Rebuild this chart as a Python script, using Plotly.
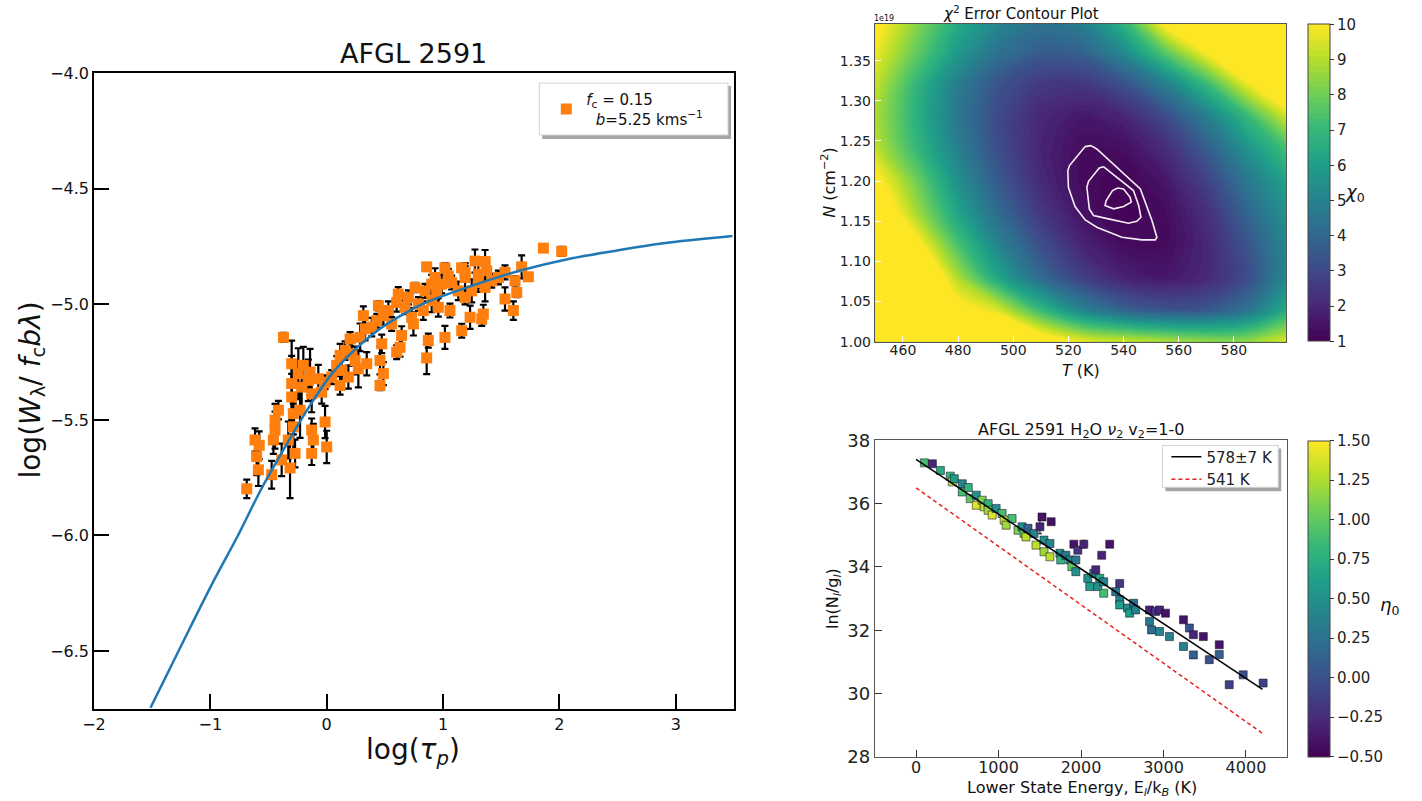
import plotly.graph_objects as go

FONT = "DejaVu Sans"

# Figure size and a mapping from target page pixels to figure pixels
# (the page is drawn with a small offset and a slight vertical squeeze).
FW, FH = 1422, 811
SX, SY = 0.993, 0.976
OX, OY = 10, 10


def fx(s):
    return (s / SX - OX) / FW


def fy(s):
    return 1 - (s / SY - OY) / FH


def flen(d):
    return d / SY / FH


# ---------------- Curve of growth (left) ----------------
tau_log = [1.862, 2.019, 0.859, 1.016, 1.159, 1.274, 1.361, 1.675, 1.733, 0.759,
           0.931, 0.988, 1.074, 1.189, 1.303, 1.375, 1.475, 1.532, 1.618, 1.633,
           1.532, 1.604, 1.361, 1.346, 1.332, 1.232, 1.160, 1.016, 1.059, 0.959,
           0.902, 0.845, 0.830, 0.873, 0.859, 0.730, 0.745, 0.673, 0.615, 0.601,
           0.444, 0.430, 0.487, 0.558, 0.644, 0.630, 0.601, 0.473, 0.458, 0.487,
           0.458, 0.315, 0.330, 0.287, 0.201, 0.158, 0.115, 0.086, 0.244, 0.272,
           0.344, 0.186, 0.115, 0.043, -0.014, -0.043, -0.372, -0.301, -0.201, -0.143,
           -0.072, -0.301, -0.215, -0.129, -0.301, -0.287, -0.229, -0.415, -0.444, -0.444,
           -0.458, -0.287, -0.129, -0.115, -0.129, -0.014, 0.000, -0.272, -0.330, -0.315,
           -0.387, -0.473, -0.616, -0.602, -0.587, -0.687, 0.902, 0.945, 1.131, 1.189,
           1.246, 1.303, 1.418, 1.189, 1.045, 0.788, 0.702, 0.530, 0.387, 0.215,
           0.129, -0.158, -0.244, -0.580]
w_log = [-4.757, -4.771, -4.838, -4.842, -4.842, -4.813, -4.815, -4.838, -4.881, -4.927,
         -4.884, -4.913, -4.906, -4.884, -4.869, -4.855, -4.884, -4.862, -4.898, -4.949,
         -4.977, -5.027, -4.927, -5.042, -5.063, -5.056, -5.114, -5.143, -5.027, -5.013,
         -4.984, -4.942, -5.027, -5.157, -5.232, -5.056, -5.085, -5.013, -4.956, -4.992,
         -5.006, -5.071, -5.049, -5.085, -5.135, -5.186, -5.207, -5.171, -5.243, -5.300,
         -5.351, -5.049, -5.106, -5.143, -5.150, -5.200, -5.221, -5.264, -5.243, -5.279,
         -5.257, -5.315, -5.351, -5.315, -5.337, -5.380, -5.143, -5.257, -5.264, -5.293,
         -5.322, -5.343, -5.358, -5.387, -5.401, -5.473, -5.458, -5.458, -5.501, -5.544,
         -5.587, -5.530, -5.544, -5.587, -5.645, -5.509, -5.617, -5.645, -5.587, -5.708,
         -5.673, -5.737, -5.587, -5.659, -5.716, -5.798, -4.913, -4.949, -4.942, -4.970,
         -4.942, -4.906, -4.898, -4.862, -4.877, -4.999, -4.970, -5.027, -5.099, -5.214,
         -5.286, -5.329, -5.300, -5.610]
w_err = [0.01, 0.02, 0.005, 0.02, 0.005, 0.05, 0.05, 0.05, 0.01, 0.02,
         0.04, 0.04, 0.03, 0.05, 0.06, 0.04, 0.03, 0.03, 0.02, 0.02,
         0.05, 0.04, 0.06, 0.04, 0.03, 0.05, 0.03, 0.05, 0.03, 0.04,
         0.05, 0.03, 0.04, 0.03, 0.07, 0.04, 0.05, 0.03, 0.03, 0.04,
         0.02, 0.03, 0.04, 0.03, 0.04, 0.04, 0.03, 0.04, 0.06, 0.05,
         0.02, 0.04, 0.05, 0.06, 0.03, 0.04, 0.05, 0.04, 0.06, 0.08,
         0.05, 0.05, 0.04, 0.03, 0.03, 0.05, 0.02, 0.10, 0.08, 0.10,
         0.06, 0.12, 0.09, 0.08, 0.10, 0.09, 0.12, 0.04, 0.07, 0.08,
         0.06, 0.10, 0.05, 0.07, 0.05, 0.07, 0.07, 0.06, 0.08, 0.13,
         0.07, 0.06, 0.05, 0.08, 0.07, 0.04, 0.04, 0.03, 0.04, 0.03,
         0.05, 0.04, 0.03, 0.04, 0.03, 0.03, 0.03, 0.04, 0.04, 0.05,
         0.05, 0.09, 0.11, 0.06]

# model curve of growth
cog_tau = [-1.514, -1.170, -0.968, -0.765, -0.563, -0.360, -0.158, 0.045, 0.247, 0.449,
           0.652, 0.854, 1.259, 1.664, 2.069, 2.474, 2.879, 3.486]
cog_w = [-6.745, -6.395, -6.193, -6.002, -5.800, -5.619, -5.449, -5.300, -5.194, -5.109,
         -5.045, -4.992, -4.918, -4.854, -4.805, -4.769, -4.737, -4.705]

# ---------------- chi^2 surface (top right) ----------------
grid_T = [450, 465, 480, 495, 510, 525, 540, 555, 570, 585, 600]
grid_N = [1.00, 1.04, 1.08, 1.12, 1.16, 1.20, 1.24, 1.28, 1.32, 1.36, 1.40]  # x 1e19 cm^-2
chi_00 = [21.0, 18.0, 15.0, 12.5, 11.0, 9.8, 9.4, 9.0, 8.6, 8.6, 9.6]
chi_04 = [18.0, 14.0, 10.5, 9.4, 7.0, 5.0, 3.8, 3.3, 3.4, 4.4, 6.6]
chi_08 = [16.0, 12.2, 8.9, 6.2, 4.1, 2.7, 1.85, 1.6, 2.0, 3.1, 5.4]
chi_12 = [14.3, 10.4, 7.4, 5.0, 3.2, 1.9, 1.3, 1.27, 1.96, 3.35, 5.3]
chi_16 = [11.5, 8.8, 6.2, 4.1, 2.48, 1.45, 1.03, 1.26, 2.2, 3.9, 5.7]
chi_20 = [10.4, 8.0, 5.5, 3.5, 2.06, 1.24, 1.04, 1.54, 2.75, 4.6, 6.3]
chi_24 = [9.2, 7.0, 4.9, 3.1, 1.9, 1.3, 1.35, 2.1, 3.6, 5.6, 7.4]
chi_28 = [8.9, 6.7, 4.6, 3.0, 2.0, 1.6, 1.9, 3.0, 4.8, 7.0, 9.5]
chi_32 = [9.2, 6.9, 4.8, 3.3, 2.5, 2.4, 3.2, 4.8, 7.0, 9.7, 11.5]
chi_36 = [9.8, 7.8, 5.8, 4.3, 3.6, 3.8, 5.2, 7.6, 10.0, 12.5, 13.5]
chi_40 = [10.5, 8.4, 6.5, 5.2, 4.5, 5.0, 7.0, 10.5, 13.0, 15.5, 16.0]
chi_grid = [chi_00, chi_04, chi_08, chi_12, chi_16, chi_20, chi_24, chi_28, chi_32, chi_36, chi_40]

# confidence contours (T in K, N in 1e19 cm^-2)
c1_T = [528.2, 526.1, 520.4, 519.8, 520.0, 522.4, 526.1, 530.3, 539.4, 546.7, 551.5, 552.1, 550.3, 546.1, 530.3, 528.2]
c1_N = [1.2442, 1.2430, 1.2193, 1.2131, 1.1923, 1.1683, 1.1517, 1.1425, 1.1301, 1.1268, 1.1268, 1.1301, 1.1508, 1.1902, 1.2400, 1.2442]
c2_T = [532.7, 531.2, 527.3, 526.7, 527.6, 529.1, 534.5, 541.8, 544.8, 546.3, 545.5, 543.6, 532.7]
c2_N = [1.2180, 1.2164, 1.1998, 1.1923, 1.1654, 1.1571, 1.1529, 1.1475, 1.1500, 1.1550, 1.1695, 1.1882, 1.2180]
c3_T = [537.9, 536.0, 533.7, 533.3, 536.4, 540.0, 542.8, 542.4, 540.0, 537.9]
c3_N = [1.1915, 1.1882, 1.1757, 1.1695, 1.1654, 1.1683, 1.1737, 1.1799, 1.1903, 1.1915]

# ---------------- rotation diagram (bottom right) ----------------
E_low = [101, 198, 295, 415, 440, 464, 560, 560, 633, 657,
         730, 730, 802, 826, 874, 874, 923, 971, 1043, 1068,
         1092, 1164, 1237, 1285, 1309, 1333, 1357, 1430, 1454, 1502,
         1527, 1551, 1551, 1623, 1623, 1638, 1744, 1754, 1816, 1865,
         1889, 1913, 1937, 1937, 1961, 2034, 2082, 2106, 2154, 2179,
         2203, 2227, 2251, 2275, 2275, 2348, 2420, 2469, 2469, 2469,
         2565, 2589, 2638, 2662, 2831, 2831, 2855, 2903, 2952, 2952,
         3024, 3072, 3242, 3242, 3314, 3362, 3362, 3483, 3555, 3676,
         3676, 3797, 3966, 4208]
ln_Ng = [37.29, 37.26, 37.05, 36.87, 36.69, 36.79, 36.63, 36.37, 36.51, 36.16,
         36.27, 35.95, 36.11, 35.90, 36.00, 35.79, 35.64, 35.85, 35.69, 35.48,
         35.32, 35.53, 35.16, 35.27, 35.06, 34.95, 35.22, 35.06, 34.69, 35.27,
         35.58, 34.85, 34.48, 34.74, 34.32, 35.43, 34.43, 34.22, 34.37, 34.22,
         34.01, 34.72, 34.22, 33.85, 34.53, 34.72, 33.64, 33.38, 33.80, 33.91,
         33.38, 33.64, 34.37, 33.53, 33.17, 34.72, 33.22, 33.48, 32.96, 32.80,
         32.70, 32.54, 32.85, 32.64, 32.64, 32.28, 32.01, 32.59, 32.64, 31.96,
         32.54, 31.80, 32.33, 31.49, 32.07, 31.86, 31.22, 31.80, 31.07, 31.54,
         31.23, 30.28, 30.59, 30.33]
eta = [0.9, -0.3, 0.7, 0.8, 1.3, 0.6, 0.4, 0.9, 0.8, 1.0,
       0.5, 1.4, 1.1, 1.3, 0.8, 1.2, 1.4, 0.5, 0.9, 1.3,
       1.2, 0.9, 1.1, 0.5, 1.0, 1.3, 0.1, 0.4, 1.3, -0.3,
       -0.4, 0.5, 1.2, 0.4, 1.3, -0.4, 0.5, 0.8, 0.3, 0.4,
       1.0, -0.4, 0.3, 0.5, -0.2, -0.3, 0.5, 0.6, 0.4, -0.3,
       0.5, 0.7, -0.3, 0.4, 0.9, -0.4, 0.3, -0.2, 0.4, 0.6,
       0.5, 0.6, 0.2, 0.4, -0.3, 0.3, 0.2, -0.2, -0.3, 0.4,
       -0.4, 0.4, -0.4, 0.4, 0.0, -0.3, 0.1, -0.4, 0.0, -0.4,
       0.1, -0.1, 0.0, -0.1]
ln_err = [0.04] * 29 + [0.22, 0.06] + [0.04] * 10 + [0.05] * 4 + [0.12] + [0.04] * 38

fit_E = [0, 4200]
fit_578 = [37.40, 30.13]
fit_541 = [36.50, 28.74]

fig = go.Figure()

# left panel
fig.add_trace(go.Scatter(
    x=tau_log, y=w_log, mode="markers", xaxis="x", yaxis="y",
    marker=dict(symbol="square", size=11, color="#ff7f0e"),
    error_y=dict(type="data", array=w_err, color="black", thickness=2.2, width=3.5),
    name="<i>f</i><sub>c</sub> = 0.15<br>  <i>b</i>=5.25 kms<sup>−1</sup>",
    legend="legend"))
fig.add_trace(go.Scatter(
    x=cog_tau, y=cog_w, mode="lines", xaxis="x", yaxis="y",
    line=dict(color="#1f77b4", width=2.5, shape="spline", smoothing=1.0),
    showlegend=False))

# top-right chi^2 map: finely banded filled contours of the grid
fig.add_trace(go.Contour(
    x=grid_T, y=grid_N, z=chi_grid, xaxis="x2", yaxis="y2",
    colorscale="Viridis", zmin=1, zmax=10, zauto=False, autocontour=False,
    contours=dict(coloring="fill", start=1.0, end=10.0, size=0.15, showlines=False),
    line=dict(width=0), showlegend=False, hoverinfo="skip",
    colorbar=dict(x=fx(1308), xanchor="left", y=fy(182), yanchor="middle",
                  len=flen(318), lenmode="fraction", thickness=22, thicknessmode="pixels",
                  xpad=0, ypad=0, tickvals=list(range(1, 11)), ticks="outside",
                  ticklen=4, tickcolor="#333", outlinewidth=1, outlinecolor="#444",
                  tickfont=dict(size=15, family=FONT, color="#222"))))
for cT, cN in ((c1_T, c1_N), (c2_T, c2_N), (c3_T, c3_N)):
    fig.add_trace(go.Scatter(x=cT, y=cN, mode="lines", xaxis="x2", yaxis="y2",
                             line=dict(color="#f4eef6", width=1.6), showlegend=False,
                             hoverinfo="skip"))

# bottom-right rotation diagram
fig.add_trace(go.Scatter(
    x=E_low, y=ln_Ng, mode="markers", xaxis="x3", yaxis="y3", showlegend=False,
    marker=dict(symbol="square", size=8, color=eta, colorscale="Viridis",
                cmin=-0.5, cmax=1.5, line=dict(color="rgba(20,20,40,0.55)", width=1),
                colorbar=dict(x=fx(1308), xanchor="left", y=fy(598.5), yanchor="middle",
                              len=flen(317), lenmode="fraction", thickness=22,
                              thicknessmode="pixels", xpad=0, ypad=0,
                              tickvals=[-0.5, -0.25, 0, 0.25, 0.5, 0.75, 1.0, 1.25, 1.5],
                              tickformat=".2f", ticks="outside", ticklen=4, tickcolor="#333",
                              outlinewidth=1, outlinecolor="#444",
                              tickfont=dict(size=15, family=FONT, color="#222"))),
    error_y=dict(type="data", array=ln_err, color="black", thickness=1, width=2)))
fig.add_trace(go.Scatter(x=fit_E, y=fit_578, mode="lines", xaxis="x3", yaxis="y3",
                         line=dict(color="black", width=1.5), name="578±7 K", legend="legend2"))
fig.add_trace(go.Scatter(x=fit_E, y=fit_541, mode="lines", xaxis="x3", yaxis="y3",
                         line=dict(color="#e8201e", width=1.5, dash="4px,3px"),
                         name="541 K", legend="legend2"))

axis_common = dict(showgrid=False, zeroline=False, showline=True, mirror=True,
                   ticks="inside", tickfont=dict(family=FONT, color="#111"))

fig.update_layout(
    width=FW, height=FH, autosize=False,
    margin=dict(l=0, r=0, t=0, b=0),
    paper_bgcolor="white", plot_bgcolor="white",
    font=dict(family=FONT, color="#111"),
    xaxis=dict(axis_common, domain=[fx(92), fx(733)], range=[-2, 3.5],
               tickvals=[-2, -1, 0, 1, 2, 3], ticklen=15, tickwidth=1.5,
               linecolor="black", linewidth=1.5, tickcolor="black",
               tickfont=dict(size=16, family=FONT, color="#111"), anchor="y"),
    yaxis=dict(axis_common, domain=[fy(709), fy(72)], range=[-6.75, -4.0],
               tickvals=[-6.5, -6.0, -5.5, -5.0, -4.5, -4.0], tickformat=".1f",
               ticklen=15, tickwidth=1.5, linecolor="black", linewidth=1.5,
               tickcolor="black", tickfont=dict(size=16, family=FONT, color="#111"),
               anchor="x"),
    xaxis2=dict(axis_common, domain=[fx(874), fx(1286)], range=[449.8, 599],
                tickvals=[460, 480, 500, 520, 540, 560, 580], ticklen=6, tickcolor="white",
                linecolor="#555", linewidth=1, tickfont=dict(size=14, family=FONT, color="#222"),
                ticklabelstandoff=-4, anchor="y2"),
    yaxis2=dict(axis_common, domain=[fy(341), fy(23)], range=[1.0, 1.3955],
                tickvals=[1.00, 1.05, 1.10, 1.15, 1.20, 1.25, 1.30, 1.35], tickformat=".2f",
                ticklen=6, tickcolor="white", linecolor="#555", linewidth=1,
                tickfont=dict(size=14, family=FONT, color="#222"), anchor="x2"),
    xaxis3=dict(axis_common, domain=[fx(874), fx(1287)], range=[-500, 4500],
                tickvals=[0, 1000, 2000, 3000, 4000], ticklen=7, tickcolor="#333",
                linecolor="#555", linewidth=1, tickfont=dict(size=16, family=FONT, color="#222"),
                ticklabelstandoff=-4, anchor="y3"),
    yaxis3=dict(axis_common, domain=[fy(757), fy(440)], range=[28, 38],
                tickvals=[28, 30, 32, 34, 36, 38], ticklen=7, tickcolor="#333",
                linecolor="#555", linewidth=1, tickfont=dict(size=18, family=FONT, color="#222"),
                anchor="x3"),
    legend=dict(x=fx(545), y=fy(82), xanchor="left", yanchor="top",
                bgcolor="rgba(0,0,0,0)", borderwidth=0,
                font=dict(size=15, family=FONT, color="#111"), itemwidth=30),
    legend2=dict(x=fx(1166), y=fy(440), xanchor="left", yanchor="top",
                 bgcolor="rgba(0,0,0,0)", borderwidth=0,
                 font=dict(size=15, family=FONT, color="#222"), itemwidth=30,
                 tracegroupgap=0),
)

ann = [
    dict(text="AFGL 2591", x=412, y=52, size=27),
    dict(text="log(<i>W</i><sub>λ</sub>/ <i>f</i><sub>c</sub><i>bλ</i>)", x=30, y=390,
         angle=-90, size=28),
    dict(text="log(<i>τ</i><sub><i>p</i></sub>)", x=412, y=752, size=28),
    dict(text="<i>χ</i><sup>2</sup> Error Contour Plot", x=1020, y=12, size=15),
    dict(text="1e19", x=883, y=17, size=8),
    dict(text="<i>T</i> (K)", x=1080, y=370, size=16),
    dict(text="<i>N</i> (cm<sup>−2</sup>)", x=828, y=182, angle=-90, size=16),
    dict(text="<i>χ</i><sub>0</sub>", x=1355, y=192, size=18),
    dict(text="AFGL 2591 H<sub>2</sub>O <i>ν</i><sub>2</sub> v<sub>2</sub>=1-0", x=1081,
         y=430, size=16),
    dict(text="Lower State Energy, E<sub><i>l</i></sub>/k<sub><i>B</i></sub> (K)", x=1081,
         y=789, size=16),
    dict(text="ln(N<sub><i>l</i></sub>/g<sub><i>l</i></sub>)", x=832, y=598, angle=-90,
         size=16),
    dict(text="<i>η</i><sub>0</sub>", x=1389, y=606, size=18),
]
fig.update_layout(annotations=[
    dict(text=a["text"], x=fx(a["x"]), y=fy(a["y"]), xref="paper", yref="paper",
         showarrow=False, xanchor="center", yanchor="middle", textangle=a.get("angle", 0),
         font=dict(size=a["size"], family=FONT, color="#111"))
    for a in ann
])


# legend frames with a soft drop shadow
def legend_frame(x0, x1, y0, y1):
    return [
        dict(type="rect", xref="paper", yref="paper", layer="above",
             x0=fx(x0 + 3), x1=fx(x1 + 3), y0=fy(y1 + 4), y1=fy(y0 + 3),
             fillcolor="#a5a5a5", line=dict(width=0)),
        dict(type="rect", xref="paper", yref="paper", layer="above",
             x0=fx(x0), x1=fx(x1), y0=fy(y1), y1=fy(y0),
             fillcolor="white", line=dict(color="#d0d0d0", width=1)),
    ]


fig.update_layout(shapes=legend_frame(538, 727, 82, 134) + legend_frame(1162, 1278, 445, 487))

fig.write_html("out.html")
